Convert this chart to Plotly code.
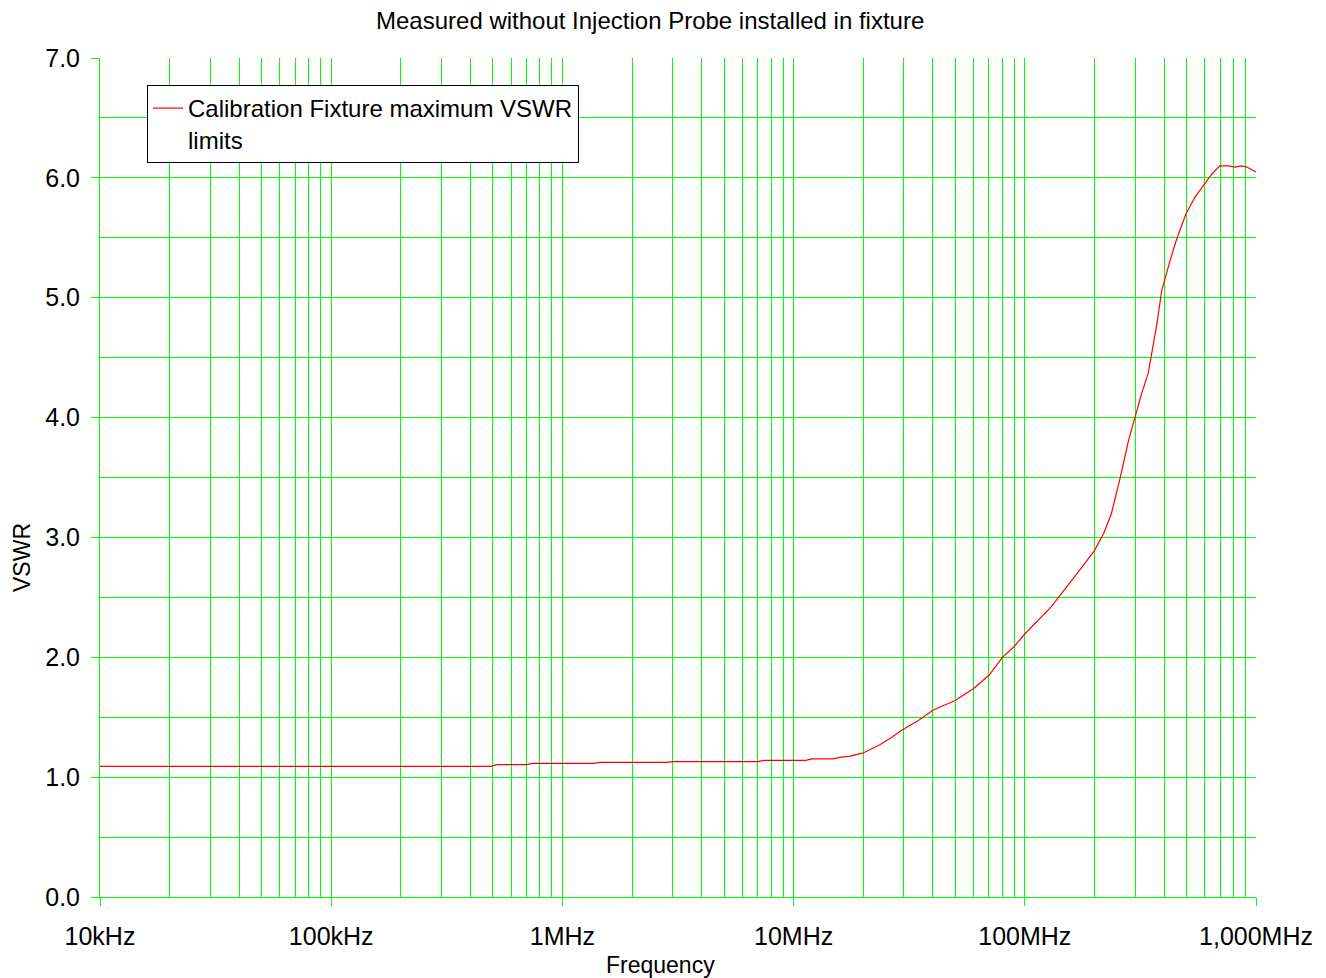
import plotly.graph_objects as go

# Data (frequency in MHz, VSWR)
freq_mhz = [0.01, 0.49, 0.52, 0.70, 0.75, 1.36, 1.45, 2.83, 3.0, 7.0,
            7.5, 11.3, 12.0, 14.8, 15.8, 17.5, 19.9, 21.5, 23.6, 26.5,
            29.8, 34.5, 40.2, 50, 60, 70, 80, 90, 99.5, 130,
            160, 173, 200, 219, 237, 258, 281, 300, 320, 342,
            354, 362, 374, 391, 404, 425, 454, 498, 545, 596,
            643, 698, 759, 811, 867, 912, 1000]
vswr = [1.09, 1.09, 1.105, 1.105, 1.115, 1.115, 1.123, 1.123, 1.13, 1.13,
        1.14, 1.14, 1.153, 1.153, 1.165, 1.175, 1.20, 1.23, 1.27, 1.33,
        1.40, 1.47, 1.56, 1.64, 1.74, 1.85, 2.0, 2.09, 2.19, 2.42,
        2.64, 2.73, 2.89, 3.03, 3.20, 3.49, 3.81, 4.0, 4.20, 4.37,
        4.53, 4.65, 4.80, 5.06, 5.16, 5.31, 5.49, 5.70, 5.84, 5.94,
        6.03, 6.10, 6.10, 6.09, 6.10, 6.09, 6.05]

x_tick_vals = [0.01, 0.1, 1, 10, 100, 1000]
x_tick_text = ["10kHz", "100kHz", "1MHz", "10MHz", "100MHz", "1,000MHz"]
x_minor_vals = [m * d for d in [0.01, 0.1, 1, 10, 100] for m in range(2, 10)]

series_name = "Calibration Fixture maximum VSWR<br>limits"
title_text = "Measured without Injection Probe installed in fixture"

GREEN = "#00FF00"
FONT = "Liberation Sans, Arial, sans-serif"

# page has an 8px body margin; plot area target in page px: x 100..1256, y 58..897
OFF = 8
W, H = 1326, 978
L, R, T, B = 100 - OFF, W - (1256 - OFF), 58 - OFF, H - (897 - OFF)
PW, PH = 1256 - 100, 897 - 58


def px(x):
    return (x - 100) / PW


def py(y):
    return (897 - y) / PH


fig = go.Figure()
fig.add_trace(go.Scatter(
    x=freq_mhz, y=vswr, mode="lines", name=series_name,
    line=dict(color="#FF0000", width=1.2),
    showlegend=True,
))

fig.update_layout(
    width=W, height=H,
    margin=dict(l=L, r=R, t=T, b=B, autoexpand=False),
    paper_bgcolor="white", plot_bgcolor="white",
    font=dict(family=FONT, color="black", size=24),
    showlegend=True,
    legend=dict(
        x=px(147), y=py(85), xanchor="left", yanchor="top",
        bgcolor="white", bordercolor="black", borderwidth=1,
        font=dict(family=FONT, size=24, color="black"),
        valign="top", itemwidth=30,
    ),
)

fig.add_annotation(text=title_text, x=px(650), y=py(21), xref="paper", yref="paper",
                   showarrow=False, font=dict(size=24, family=FONT),
                   xanchor="center", yanchor="middle")
fig.add_annotation(text="Frequency", x=px(660), y=py(965), xref="paper", yref="paper",
                   showarrow=False, font=dict(size=23, family=FONT),
                   xanchor="center", yanchor="middle")
fig.add_annotation(text="VSWR", x=px(22), y=py(557), xref="paper", yref="paper",
                   showarrow=False, font=dict(size=23, family=FONT), textangle=-90,
                   xanchor="center", yanchor="middle")

fig.update_xaxes(
    type="log", range=[-2, 3],
    tickvals=x_tick_vals, ticktext=x_tick_text,
    ticks="outside", ticklen=8, tickcolor=GREEN, tickwidth=1,
    showgrid=True, gridcolor=GREEN, gridwidth=1,
    minor=dict(tickvals=x_minor_vals, showgrid=True, gridcolor=GREEN, gridwidth=1, ticks=""),
    showline=True, linecolor=GREEN, linewidth=1, mirror=False,
    zeroline=False,
    tickfont=dict(size=25, family=FONT, color="black"),
    ticklabelstandoff=9,
)
fig.update_yaxes(
    range=[0, 7], dtick=1, tick0=0, tickformat=".1f",
    ticks="outside", ticklen=8, tickcolor=GREEN, tickwidth=1,
    showgrid=True, gridcolor=GREEN, gridwidth=1,
    minor=dict(dtick=0.5, showgrid=True, gridcolor=GREEN, gridwidth=1, ticks=""),
    showline=True, linecolor=GREEN, linewidth=1,
    zeroline=False,
    tickfont=dict(size=25, family=FONT, color="black"),
    ticklabelstandoff=6,
)

fig.write_html("out.html")
